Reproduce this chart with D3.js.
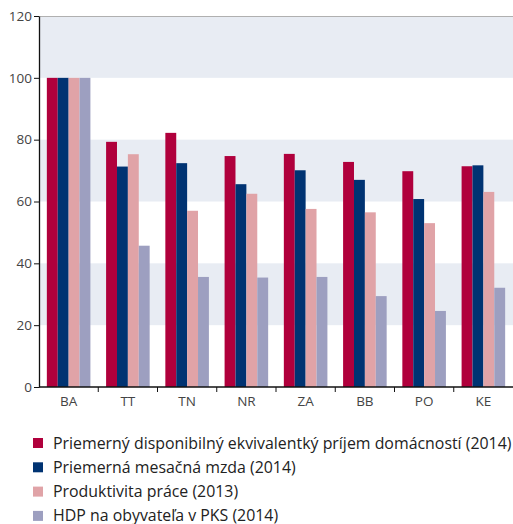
<!DOCTYPE html>
<html>
<head>
<meta charset="utf-8">
<script src="https://cdn.jsdelivr.net/npm/d3@7"></script>
<style>
  body { margin: 0; background: #fff; }
  svg { display: block; font-family: "Open Sans", "Noto Sans", sans-serif; }
</style>
</head>
<body>
<svg width="513" height="524"></svg>
<script>
// regions (kraje)
var regions = ["BA", "TT", "TN", "NR", "ZA", "BB", "PO", "KE"];

// series, BA = 100
var prijem = [100, 79.3, 82.2, 74.7, 75.4, 72.8, 69.8, 71.4];
var mzda = [100, 71.3, 72.4, 65.6, 70.1, 67.0, 60.8, 71.7];
var produktivita = [100, 75.3, 57.0, 62.5, 57.6, 56.5, 53.0, 63.1];
var hdp = [100, 45.7, 35.6, 35.4, 35.6, 29.4, 24.6, 32.1];

var seriesNames = [
  "Priemerný disponibilný ekvivalentký príjem domácností (2014)",
  "Priemerná mesačná mzda (2014)",
  "Produktivita práce (2013)",
  "HDP na obyvateľa v PKS (2014)"
];
var seriesColors = ["#b0003c", "#003372", "#e0a3a7", "#9d9fc0"];
var yTicks = [0, 20, 40, 60, 80, 100, 120];

var allSeries = [prijem, mzda, produktivita, hdp];

var svg = d3.select("svg"),
    mLeft = 39, mRight = 513, mTop = 16, mBottom = 387;

var x = d3.scaleBand().domain(regions).range([mLeft, mRight]).paddingInner(0).paddingOuter(0);
var x1 = d3.scaleBand().domain(d3.range(4)).range([0, x.bandwidth()]).paddingInner(0).paddingOuter(0.72);
var y = d3.scaleLinear().domain([0, 120]).range([mBottom, mTop]);

// alternating background bands
var bands = [[20, 40], [60, 80], [100, 120]];
svg.append("g").selectAll("rect")
  .data(bands)
  .enter().append("rect")
    .attr("x", mLeft)
    .attr("width", mRight - mLeft)
    .attr("y", function(d) { return y(d[1]); })
    .attr("height", function(d) { return y(d[0]) - y(d[1]); })
    .attr("fill", "#e8ecf3");

// top border of plot
svg.append("line")
  .attr("x1", mLeft).attr("x2", mRight)
  .attr("y1", y(120) + 0.5).attr("y2", y(120) + 0.5)
  .attr("stroke", "#b0b0b0").attr("stroke-width", 1);

// bars
var groups = svg.append("g").selectAll("g")
  .data(regions)
  .enter().append("g")
    .attr("transform", function(d) { return "translate(" + x(d) + ",0)"; });

groups.selectAll("rect")
  .data(function(d, i) { return allSeries.map(function(s, k) { return { k: k, v: s[i] }; }); })
  .enter().append("rect")
    .attr("x", function(d) { return x1(d.k); })
    .attr("width", x1.bandwidth())
    .attr("y", function(d) { return y(d.v); })
    .attr("height", function(d) { return y(0) - y(d.v); })
    .attr("fill", function(d) { return seriesColors[d.k]; });

// y axis
var yAxis = svg.append("g")
  .attr("transform", "translate(" + mLeft + ",0)")
  .call(d3.axisLeft(y).tickValues(yTicks).tickSize(5).tickSizeOuter(0).tickPadding(2));
yAxis.select(".domain").attr("stroke", "#111").attr("stroke-width", 1.3);
yAxis.selectAll(".tick line").attr("stroke", "#111");
yAxis.selectAll("text").attr("font-size", 13.5).attr("fill", "#444")
  .attr("font-family", "'Open Sans', sans-serif");

// x axis with ticks at band boundaries
var xAxis = svg.append("g")
  .attr("transform", "translate(0," + mBottom + ")");
xAxis.append("line")
  .attr("x1", mLeft).attr("x2", mRight)
  .attr("stroke", "#111").attr("stroke-width", 1.3);
xAxis.selectAll("line.tk")
  .data(regions.slice(1))
  .enter().append("line")
    .attr("class", "tk")
    .attr("x1", function(d) { return x(d); })
    .attr("x2", function(d) { return x(d); })
    .attr("y1", 0).attr("y2", 5)
    .attr("stroke", "#111");
xAxis.selectAll("text")
  .data(regions)
  .enter().append("text")
    .attr("x", function(d) { return x(d) + x.bandwidth() / 2; })
    .attr("y", 19)
    .attr("text-anchor", "middle")
    .attr("font-size", 13.5)
    .attr("fill", "#444")
    .text(function(d) { return d; });

// legend
var legend = svg.append("g").selectAll("g")
  .data(seriesNames)
  .enter().append("g")
    .attr("transform", function(d, i) { return "translate(33," + (443 + i * 24.3) + ")"; });

legend.append("rect")
  .attr("x", 0).attr("y", -5)
  .attr("width", 10).attr("height", 10)
  .attr("fill", function(d, i) { return seriesColors[i]; });

legend.append("text")
  .attr("x", 20)
  .attr("dy", "0.35em")
  .attr("font-size", 15.9)
  .attr("fill", "#222")
  .text(function(d) { return d; });
</script>
</body>
</html>
